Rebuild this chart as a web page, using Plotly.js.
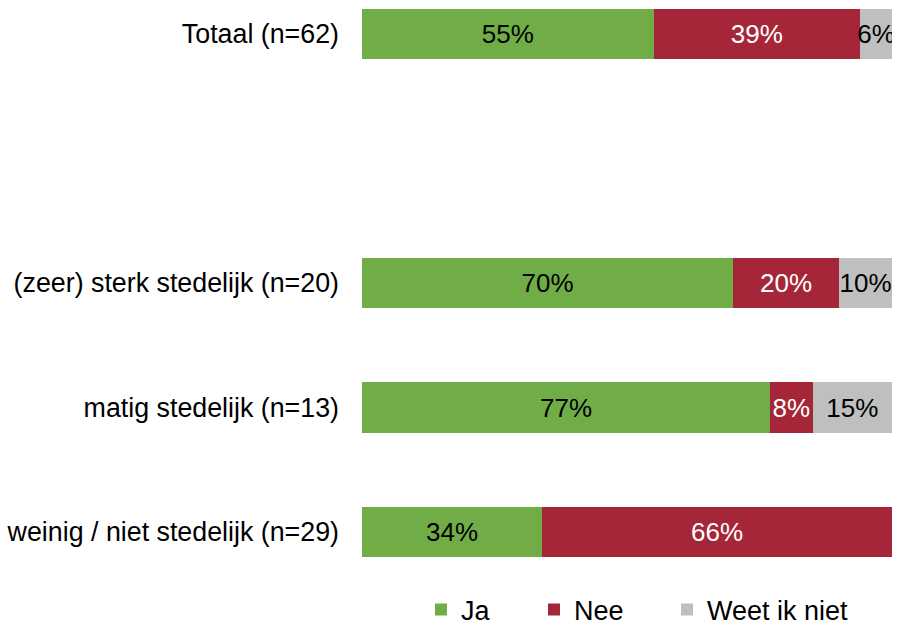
<!DOCTYPE html>
<html>
<head>
<meta charset="utf-8">
<script src="https://cdn.plot.ly/plotly-3.0.1.min.js"></script>
<style>html,body{margin:0;padding:0;background:#fff;}#chart{width:897px;height:621px;}</style>
</head>
<body>
<div id="chart"></div>
<script>
// Categories bottom-to-top; ' ' is the empty spacer row
const categories = ['weinig / niet stedelijk (n=29)', 'matig stedelijk (n=13)', '(zeer) sterk stedelijk (n=20)', ' ', 'Totaal (n=62)'];
const ja = [34, 77, 70, null, 55];
const nee = [66, 8, 20, null, 39];
const weetIkNiet = [0, 15, 10, null, 6];
const seriesNames = ['Ja', 'Nee', 'Weet ik niet'];
const colors = ['#70AD47', '#A52638', '#BFBFBF'];
const textColors = ['#000000', '#ffffff', '#000000'];
const legendIds = ['legend', 'legend2', 'legend3'];
const legendX = [0.4693, 0.5953, 0.7436];

const seriesValues = [ja, nee, weetIkNiet];
const traces = seriesValues.map((vals, i) => ({
  type: 'bar',
  orientation: 'h',
  name: seriesNames[i],
  legend: legendIds[i],
  y: categories,
  x: vals,
  marker: {color: colors[i]},
  text: vals.map(v => (v ? v + '%' : '')),
  textposition: 'inside',
  insidetextanchor: 'middle',
  textangle: 0,
  constraintext: 'none',
  textfont: {family: 'Liberation Sans, Arial, sans-serif', size: 26, color: textColors[i]},
  hoverinfo: 'skip'
}));

const layout = {
  barmode: 'stack',
  bargap: 0.598,
  width: 897,
  height: 621,
  margin: {l: 362, r: 5, t: 0, b: 50},
  paper_bgcolor: '#ffffff',
  plot_bgcolor: '#ffffff',
  font: {family: 'Liberation Sans, Arial, sans-serif', size: 26.8, color: '#000000'},
  uniformtext: {mode: 'show', minsize: 26},
  showlegend: true,
  xaxis: {
    range: [0, 100],
    showgrid: false, zeroline: false, showticklabels: false, showline: false, ticks: ''
  },
  yaxis: {
    type: 'category',
    categoryorder: 'array',
    categoryarray: categories,
    range: [-0.313, 4.273],
    showgrid: false, zeroline: false, showline: false, ticks: '',
    ticklabelstandoff: 22,
    tickfont: {size: 26.8, color: '#000000'}
  }
};

legendIds.forEach((id, i) => {
  layout[id] = {
    orientation: 'h',
    xref: 'container', yref: 'container',
    x: legendX[i], xanchor: 'left',
    y: 0.0177, yanchor: 'middle',
    font: {size: 27, color: '#000000'},
    bgcolor: 'rgba(0,0,0,0)'
  };
});

Plotly.newPlot('chart', traces, layout, {displayModeBar: false, staticPlot: true});
</script>
</body>
</html>
